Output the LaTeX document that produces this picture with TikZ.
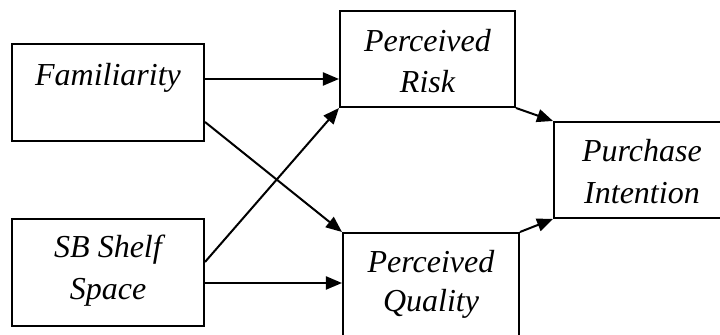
\documentclass[tikz,border=0pt]{standalone}
\usepackage{fontspec}
\setmainfont{Liberation Serif}
\usetikzlibrary{arrows.meta}
\begin{document}
\begin{tikzpicture}[x=0.5pt,y=-0.5pt,
  box/.style={draw=black, line width=1pt, fill=white, rectangle, inner sep=0pt},
  lbl/.style={anchor=base, inner sep=0pt, font=\fontsize{16}{20}\selectfont\itshape},
  arr/.style={draw=black, line width=1pt, -{Triangle[length=8pt,width=6.5pt]}}]
\useasboundingbox (0,0) rectangle (720,335);
\clip (0,0) rectangle (720,335);
% boxes
\node[box, minimum width=96pt, minimum height=48.5pt] (fam) at (108,92.5) {};
\node[box, minimum width=96pt, minimum height=53.5pt] (shelf) at (108,272.5) {};
\node[box, minimum width=87.5pt, minimum height=48pt] (risk) at (427.5,59) {};
\node[box, minimum width=88pt, minimum height=55pt] (qual) at (431,288) {};
\node[box, minimum width=88pt, minimum height=48pt] (pi) at (642,170) {};
% labels
\node[lbl] (famt) at (108,86) {Familiarity};
\node[lbl] (shelft1) at (108,258) {SB Shelf};
\node[lbl] (shelft2) at (108,300) {Space};
\node[lbl] (riskt1) at (427.5,52) {Perceived};
\node[lbl] (riskt2) at (427.5,93) {Risk};
\node[lbl] (qualt1) at (431,273) {Perceived};
\node[lbl] (qualt2) at (431,312) {Quality};
\node[lbl] (pit1) at (642,162) {Purchase};
\node[lbl] (pit2) at (642,204) {Intention};
% connectors
\draw[arr] ([yshift=6.75pt]fam.east) -- ([yshift=6.75pt]fam.east -| risk.west);
\draw[arr] ([yshift=-14.75pt]fam.east) -- (qual.north west);
\draw[arr] ([yshift=5.25pt]shelf.east) -- (risk.south west);
\draw[arr] ([yshift=-5.25pt]shelf.east) -- ([yshift=-5.25pt]shelf.east -| qual.west);
\draw[arr] (risk.south east) -- (pi.north west);
\draw[arr] (qual.north east) -- (pi.south west);
\end{tikzpicture}
\end{document}
